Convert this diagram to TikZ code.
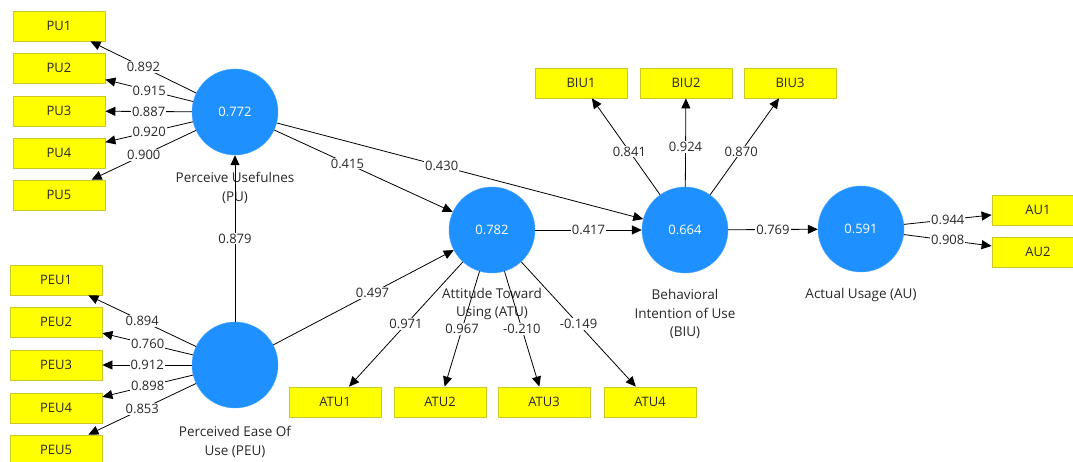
\documentclass[tikz,border=0pt]{standalone}
\usepackage{fontspec}
\setmainfont{Open Sans}
\usetikzlibrary{arrows.meta}
\definecolor{lvblue}{RGB}{30,144,255}
\definecolor{boxyel}{RGB}{255,255,0}
\definecolor{boxedge}{RGB}{200,200,40}
\definecolor{txt}{RGB}{40,40,40}
\tikzset{
  lv/.style={circle,fill=lvblue,draw=lvblue!80!white,minimum size=86pt,inner sep=0pt,text=white,font=\fontsize{13}{15}\selectfont},
  ind/.style={rectangle,fill=boxyel,draw=boxedge,line width=0.8pt,minimum width=92pt,minimum height=30pt,inner sep=0pt,text=txt,font=\fontsize{13}{15}\selectfont},
  captxt/.style={text=txt,font=\fontsize{13.5}{18.5}\selectfont,align=center,inner sep=0pt},
  conn/.style={draw=black,line width=0.8pt,-{Triangle[length=10pt,width=9pt]}},
  wt/.style={fill=white,inner sep=1pt,text=txt,font=\fontsize{13}{15}\selectfont,pos=0.5}
}
\begin{document}
\begin{tikzpicture}[x=1pt,y=-1pt]
\useasboundingbox (0,0) rectangle (1073,462);
\begin{scope}
\clip (0,0) rectangle (1073,462);
% latent variables
\node[lv] (PU) at (235,112) {0.772};
\node[lv] (PEU) at (235,365) {};
\node[lv] (ATU) at (492,230) {0.782};
\node[lv] (BIU) at (685,230) {0.664};
\node[lv] (AU) at (861,229) {0.591};
% captions
\node[captxt] (cPU) at (235,188) {Perceive Usefulnes\\(PU)};
\node[captxt] (cPEU) at (235,442) {Perceived Ease Of\\Use (PEU)};
\node[captxt] (cATU) at (492,304) {Attitude Toward\\Using (ATU)};
\node[captxt] (cBIU) at (685,314) {Behavioral\\Intention of Use\\(BIU)};
\node[captxt] (cAU) at (861,295) {Actual Usage (AU)};
% indicators
\node[ind] (PU1) at (59,26) {PU1};
\node[ind] (PU2) at (59,68) {PU2};
\node[ind] (PU3) at (59,111) {PU3};
\node[ind] (PU4) at (59,153) {PU4};
\node[ind] (PU5) at (59,195) {PU5};
\node[ind] (PEU1) at (56,280) {PEU1};
\node[ind] (PEU2) at (56,322) {PEU2};
\node[ind] (PEU3) at (56,365) {PEU3};
\node[ind] (PEU4) at (56,408) {PEU4};
\node[ind] (PEU5) at (56,450) {PEU5};
\node[ind] (ATU1) at (335,402) {ATU1};
\node[ind] (ATU2) at (440,402) {ATU2};
\node[ind] (ATU3) at (544,402) {ATU3};
\node[ind] (ATU4) at (650,402) {ATU4};
\node[ind] (BIU1) at (581,83) {BIU1};
\node[ind] (BIU2) at (686,83) {BIU2};
\node[ind] (BIU3) at (790,83) {BIU3};
\node[ind] (AU1) at (1038,210) {AU1};
\node[ind] (AU2) at (1038,252) {AU2};
% loadings
\draw[conn] (PU) -- node[wt] {0.892} (PU1);
\draw[conn] (PU) -- node[wt] {0.915} (PU2);
\draw[conn] (PU) -- node[wt] {0.887} (PU3);
\draw[conn] (PU) -- node[wt] {0.920} (PU4);
\draw[conn] (PU) -- node[wt] {0.900} (PU5);
\draw[conn] (PEU) -- node[wt] {0.894} (PEU1);
\draw[conn] (PEU) -- node[wt] {0.760} (PEU2);
\draw[conn] (PEU) -- node[wt] {0.912} (PEU3);
\draw[conn] (PEU) -- node[wt] {0.898} (PEU4);
\draw[conn] (PEU) -- node[wt] {0.853} (PEU5);
\draw[conn] (ATU) -- node[wt] {0.971} (ATU1);
\draw[conn] (ATU) -- node[wt] {0.967} (ATU2);
\draw[conn] (ATU) -- node[wt] {-0.210} (ATU3);
\draw[conn] (ATU) -- node[wt] {-0.149} (ATU4);
\draw[conn] (BIU) -- node[wt,pos=0.45] {0.841} (BIU1);
\draw[conn] (BIU) -- node[wt,pos=0.45] {0.924} (BIU2);
\draw[conn] (BIU) -- node[wt,pos=0.45] {0.870} (BIU3);
\draw[conn] (AU) -- node[wt] {0.944} (AU1);
\draw[conn] (AU) -- node[wt] {0.908} (AU2);
% paths
\draw[conn] (PEU) -- node[wt] {0.879} (PU);
\draw[conn] (PU) -- node[wt,pos=0.41] {0.415} (ATU);
\draw[conn] (PU) -- node[wt,pos=0.45] {0.430} (BIU);
\draw[conn] (PEU) -- node[wt,pos=0.55] {0.497} (ATU);
\draw[conn] (ATU) -- node[wt] {0.417} (BIU);
\draw[conn] (BIU) -- node[wt] {0.769} (AU);
\end{scope}
\end{tikzpicture}
\end{document}
